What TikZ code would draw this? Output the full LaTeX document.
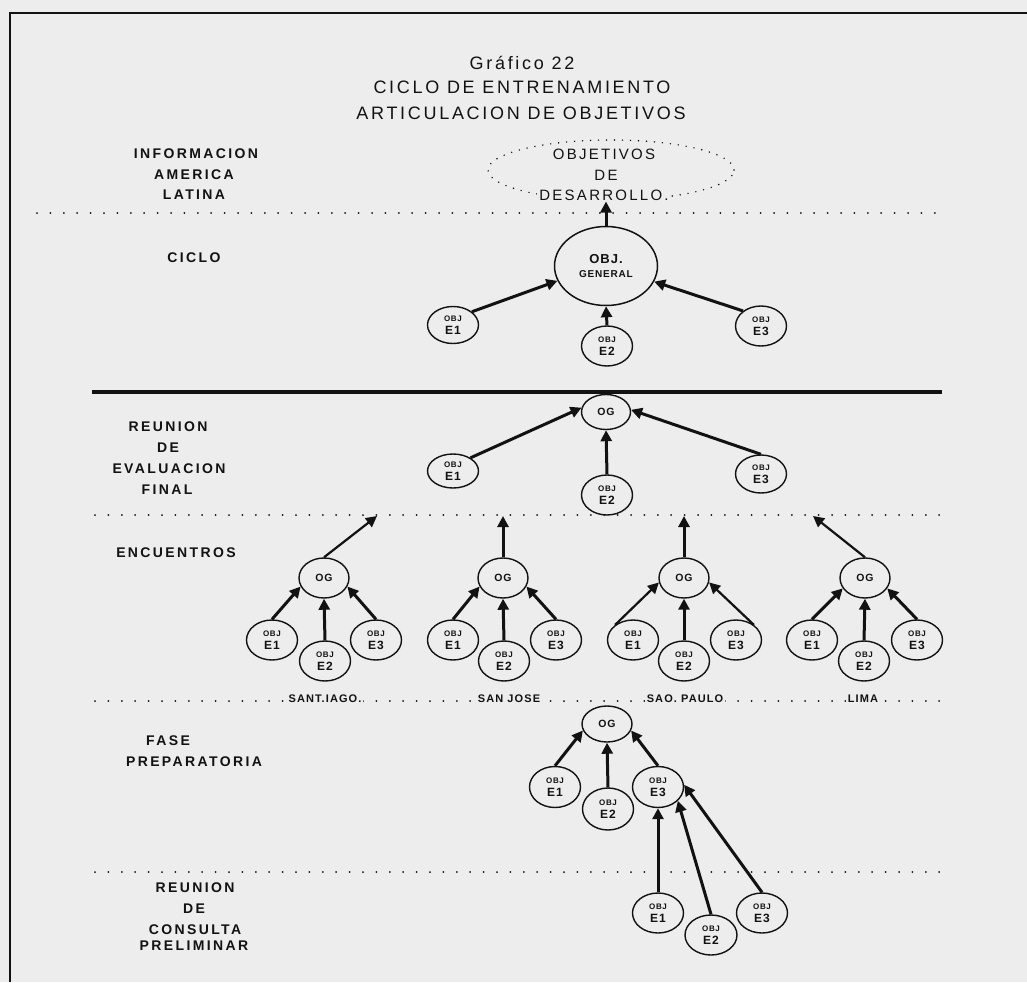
\documentclass[tikz,border=0pt]{standalone}
\usepackage{fontspec}
\setmainfont{Liberation Sans}
\newfontfamily\titlefont[LetterSpace=15]{Liberation Sans}
\newfontfamily\sidefont[LetterSpace=17]{Liberation Sans}
\newfontfamily\cityfont[LetterSpace=10]{Liberation Sans}
\newfontfamily\smallfont[LetterSpace=8]{Liberation Sans}
\usetikzlibrary{shapes.geometric,arrows.meta,calc}
\definecolor{paper}{RGB}{237,237,237}
\definecolor{ink}{RGB}{18,18,18}
\newcommand{\objlabel}[1]{{\fontsize{8}{8}\selectfont OBJ}\\{#1}}
\tikzset{
  every node/.style={text=ink, inner sep=0pt},
  frame/.style={draw=ink, line width=2.4pt},
  dotrule/.style={draw=ink, line width=2pt, line cap=round, dash pattern=on 0pt off 13.4pt},
  dotring/.style={draw=ink, line width=1.6pt, line cap=round, dash pattern=on 0pt off 8pt},
  heavyrule/.style={draw=ink, line width=4pt},
  titletext/.style={font=\titlefont\fontsize{18}{20}\selectfont},
  sidetext/.style={font=\sidefont\bfseries\fontsize{14}{16}\selectfont},
  citytext/.style={font=\cityfont\bfseries\fontsize{11}{12}\selectfont, fill=paper, inner xsep=2pt, inner ysep=1pt},
  objnode/.style={ellipse, draw=ink, line width=1.4pt, minimum width=51pt, minimum height=40pt,
    align=center, inner sep=0pt, font=\smallfont\bfseries\fontsize{12}{13}\selectfont},
  ognode/.style={ellipse, draw=ink, line width=1.4pt, minimum width=50pt, minimum height=38pt,
    inner sep=0pt, font=\smallfont\bfseries\fontsize{10.5}{12}\selectfont},
  genode/.style={ellipse, draw=ink, line width=1.5pt, minimum width=103pt, minimum height=79pt,
    align=center, inner sep=0pt, font=\smallfont\bfseries\fontsize{10}{14}\selectfont},
  link/.style={draw=ink, line width=3pt, -{Triangle[length=11pt,width=11pt]}},
  thinlink/.style={link, line width=2.2pt},
}
\begin{document}
\begin{tikzpicture}[x=1pt,y=-1pt]
\useasboundingbox (0,0) rectangle (1027,982);
\fill[paper] (0,0) rectangle (1027,982);

% page frame
\draw[frame] (1027,13) -- (10,13) -- (10,982);

% heading
\node[titletext] (gtitle) at (522,63) {Gráfico 22};
\node[titletext] (ttlA) at (522,87) {CICLO DE ENTRENAMIENTO};
\node[titletext] (ttlB) at (521,113) {ARTICULACION DE OBJETIVOS};

% section rules
\draw[dotrule] (37,213) -- (942,213);
\draw[heavyrule] (92,392) -- (942,392);
\draw[dotrule] (95,515) -- (942,515);
\draw[dotrule] (95,701) -- (943,701);
\draw[dotrule] (95,872) -- (940,872);

% left-hand stage names
\node[sidetext] (infoA) at (196,154) {INFORMACION};
\node[sidetext] (infoB) at (194,175) {AMERICA};
\node[sidetext] (infoC) at (194,195) {LATINA};
\node[sidetext] (cicloLab) at (194,258) {CICLO};
\node[sidetext] (revA) at (168,427) {REUNION};
\node[sidetext] (revB) at (168,448) {DE};
\node[sidetext] (revC) at (169,469) {EVALUACION};
\node[sidetext] (revD) at (167,490) {FINAL};
\node[sidetext] (encLab) at (176,553) {ENCUENTROS};
\node[sidetext] (fasA) at (168,741) {FASE};
\node[sidetext] (fasB) at (194,762) {PREPARATORIA};
\node[sidetext] (conA) at (195,888) {REUNION};
\node[sidetext] (conB) at (194,909) {DE};
\node[sidetext] (conC) at (195,930) {CONSULTA};
\node[sidetext] (conD) at (194,946) {PRELIMINAR};

% development objectives (dotted ring)
\draw[dotring] (611,170) ellipse [x radius=123pt, y radius=30pt];
\node[titletext, font=\titlefont\fontsize{15}{16}\selectfont] (devA) at (604,154) {OBJETIVOS};
\node[titletext, font=\titlefont\fontsize{15}{16}\selectfont] (devB) at (606,175) {DE};
\node[titletext, font=\titlefont\fontsize{15}{16}\selectfont, fill=paper, inner xsep=2pt, inner ysep=1pt] (devC) at (604,195) {DESARROLLO.};

% cycle: general objective
\node[genode] (gen) at (606,266) {{\fontsize{13}{13}\selectfont OBJ.}\\GENERAL};
\node[objnode, minimum height=37pt] (tE1) at (453,325) {\objlabel{E1}};
\node[objnode] (tE2) at (607,346) {\objlabel{E2}};
\node[objnode] (tE3) at (761,326) {\objlabel{E3}};
\draw[link] (tE1.35) -- (gen.197);
\draw[link] (tE2.north) -- (gen.south);
\draw[link] (tE3.140) -- (gen.-18);
\draw[link] (gen.north) -- (gen.north |- devC.south);

% final evaluation meeting
\node[ognode, minimum width=49pt, minimum height=35pt] (fOG) at (606,412) {OG};
\node[objnode, minimum height=34pt] (fE1) at (453,471) {\objlabel{E1}};
\node[objnode] (fE2) at (607,495) {\objlabel{E2}};
\node[objnode, minimum height=38pt] (fE3) at (761,474) {\objlabel{E3}};
\draw[link] (fE1.37) -- (fOG.170);
\draw[link] (fE2.north) -- (fOG.south);
\draw[link] (fE3.north) -- (fOG.5);

% encounters: Santiago
\node[ognode, minimum height=40pt] (saOG) at (324,578) {OG};
\node[objnode] (saE1) at (272,640) {\objlabel{E1}};
\node[objnode] (saE2) at (325,661) {\objlabel{E2}};
\node[objnode] (saE3) at (376,640) {\objlabel{E3}};
\coordinate (saUp) at (377,516);
\draw[link] (saE1.north) -- (saOG.200);
\draw[link] (saE2.north) -- (saOG.south);
\draw[link] (saE3.north) -- (saOG.-20);
\draw[thinlink] (saOG.north) -- (saUp);

% encounters: San Jose
\node[ognode, minimum height=40pt] (sjOG) at (503,578) {OG};
\node[objnode] (sjE1) at (453,640) {\objlabel{E1}};
\node[objnode] (sjE2) at (504,661) {\objlabel{E2}};
\node[objnode] (sjE3) at (556,640) {\objlabel{E3}};
\coordinate (sjUp) at (503,516);
\draw[link] (sjE1.north) -- (sjOG.200);
\draw[link] (sjE2.north) -- (sjOG.south);
\draw[link] (sjE3.north) -- (sjOG.-20);
\draw[link] (sjOG.north) -- (sjUp);

% encounters: Sao Paulo
\node[ognode, minimum height=40pt] (spOG) at (684,578) {OG};
\node[objnode] (spE1) at (633,640) {\objlabel{E1}};
\node[objnode] (spE2) at (684,661) {\objlabel{E2}};
\node[objnode] (spE3) at (736,640) {\objlabel{E3}};
\coordinate (spUp) at (684,516);
\draw[thinlink] (spE1.140) -- (spOG.190);
\draw[link] (spE2.north) -- (spOG.south);
\draw[thinlink] (spE3.40) -- (spOG.-10);
\draw[link] (spOG.north) -- (spUp);

% encounters: Lima
\node[ognode, minimum height=40pt] (liOG) at (865,578) {OG};
\node[objnode] (liE1) at (812,640) {\objlabel{E1}};
\node[objnode] (liE2) at (864,661) {\objlabel{E2}};
\node[objnode] (liE3) at (917,640) {\objlabel{E3}};
\coordinate (liUp) at (813,516);
\draw[link] (liE1.north) -- (liOG.205);
\draw[link] (liE2.north) -- (liOG.south);
\draw[link] (liE3.north) -- (liOG.-25);
\draw[thinlink] (liOG.north) -- (liUp);

% city names on the rule
\node[citytext] (saLab) at (325,699) {SANT.IAGO.};
\node[citytext] (sjLab) at (509,699) {SAN JOSE};
\node[citytext] (spLab) at (685,699) {SAO. PAULO};
\node[citytext] (liLab) at (863,699) {LIMA};

% preparatory phase
\node[ognode, minimum height=36pt] (pOG) at (607,724) {OG};
\node[objnode, minimum height=41pt] (pE1) at (555,787) {\objlabel{E1}};
\node[objnode, minimum height=42pt] (pE2) at (608,809) {\objlabel{E2}};
\node[objnode, minimum height=41pt] (pE3) at (658,787) {\objlabel{E3}};
\draw[link] (pE1.north) -- (pOG.195);
\draw[link] (pE2.north) -- (pOG.south);
\draw[link] (pE3.north) -- (pOG.-15);

% preliminary consultation meeting
\node[objnode] (cE1) at (658,913) {\objlabel{E1}};
\node[objnode, minimum width=52pt] (cE2) at (711,935) {\objlabel{E2}};
\node[objnode] (cE3) at (762,913) {\objlabel{E3}};
\draw[link] (cE1.north) -- (pE3.south);
\draw[link] (cE2.north) -- (pE3.-35);
\draw[link] (cE3.north) -- (pE3.5);
\end{tikzpicture}
\end{document}
